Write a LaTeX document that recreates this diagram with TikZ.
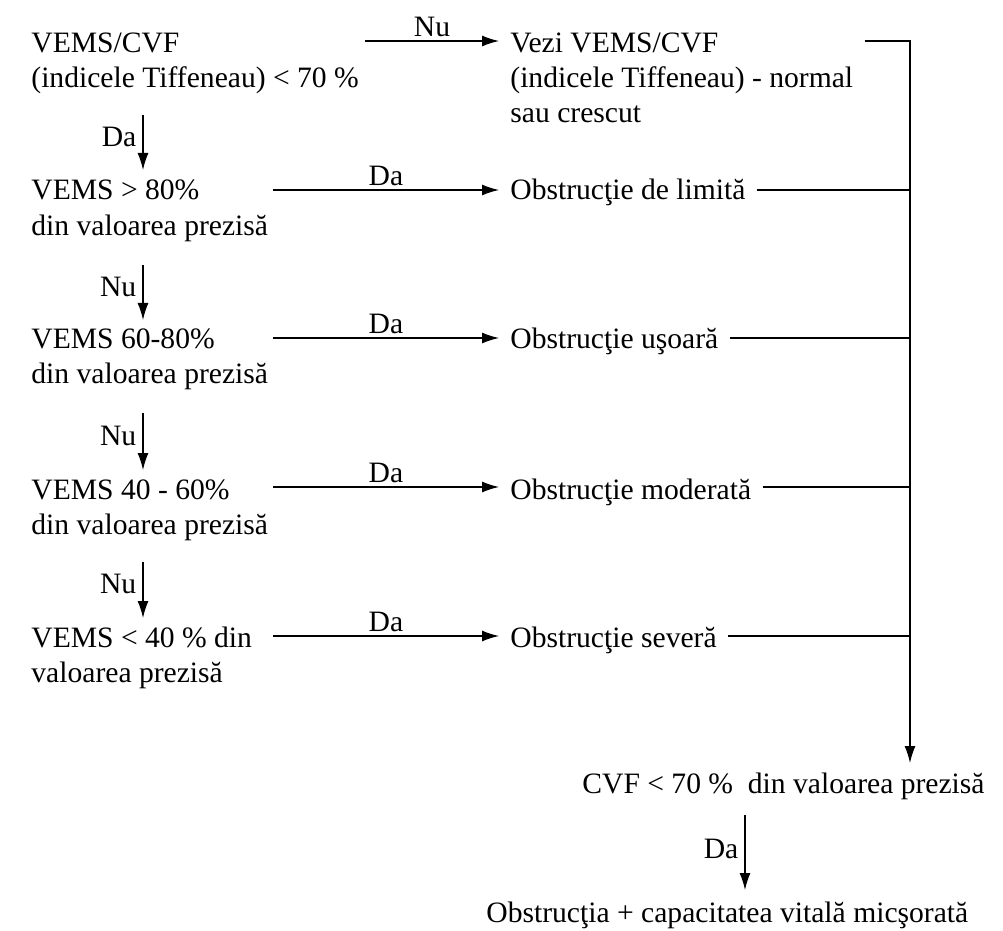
\documentclass[tikz,border=0pt]{standalone}
\usepackage{fontspec}
\setmainfont{Liberation Serif}
\usetikzlibrary{arrows.meta}
\newcommand{\lines}[1]{\begin{tabular}[t]{@{}l@{}}#1\end{tabular}}
\begin{document}
\begin{tikzpicture}[x=0.5pt,y=-0.5pt,
  txt/.style={inner sep=0pt, anchor=base west, font=\fontsize{14.8}{17.5}\selectfont},
  rtxt/.style={txt, inner xsep=5.5pt},
  lbl/.style={inner sep=2pt, font=\fontsize{14.8}{17.5}\selectfont},
  arr/.style={-{Latex[length=8.5pt,width=5.5pt]}, line width=0.7pt},
  ln/.style={line width=0.7pt}]
\useasboundingbox (0,0) rectangle (1003,931);

% left column: conditions
\node[txt] (c1) at (31,53)  {\lines{VEMS/CVF\\(indicele Tiffeneau) < 70 \%}};
\node[txt] (c2) at (31,200) {\lines{VEMS > 80\%\\din valoarea prezisă}};
\node[txt] (c3) at (31,349) {\lines{VEMS 60-80\%\\din valoarea prezisă}};
\node[txt] (c4) at (31,499) {\lines{VEMS 40 - 60\%\\din valoarea prezisă}};
\node[txt] (c5) at (31,647) {\lines{VEMS < 40 \% din\\valoarea prezisă}};

% right column: results
\node[rtxt] (v2) at (499,53)  {\lines{Vezi VEMS/CVF\\(indicele Tiffeneau) - normal\\sau crescut}};
\node[rtxt] (o1) at (499,200) {Obstrucţie de limită};
\node[rtxt] (o2) at (499,349) {Obstrucţie uşoară};
\node[rtxt] (o3) at (499,499) {Obstrucţie moderată};
\node[rtxt] (o4) at (499,647) {Obstrucţie severă};

% bottom
\node[txt] (cvf) at (582,793) {CVF < 70 \%\ \ din valoarea prezisă};
\node[txt] (fin) at (486,922) {Obstrucţia + capacitatea vitală micşorată};

% free ends of the connectors
\coordinate (s1) at (365,41);
\coordinate (s2) at (273,190);
\coordinate (s3) at (273,338);
\coordinate (s4) at (273,487);
\coordinate (s5) at (273,636);
\coordinate (bt) at (910,41);
\coordinate (bb) at (910,763);
\coordinate (d1a) at (143,115); \coordinate (d1b) at (143,170);
\coordinate (d2a) at (143,265); \coordinate (d2b) at (143,320);
\coordinate (d3a) at (143,413); \coordinate (d3b) at (143,470);
\coordinate (d4a) at (143,562); \coordinate (d4b) at (143,618);
\coordinate (e1) at (745,815);  \coordinate (e2) at (745,890);

% horizontal decisions
\draw[arr] (s1) -- (s1 -| v2.west) node[midway, above, lbl] {Nu};
\draw[arr] (s2) -- (s2 -| o1.west) node[midway, above, lbl] {Da};
\draw[arr] (s3) -- (s3 -| o2.west) node[midway, above, lbl] {Da};
\draw[arr] (s4) -- (s4 -| o3.west) node[midway, above, lbl] {Da};
\draw[arr] (s5) -- (s5 -| o4.west) node[midway, above, lbl] {Da};

% vertical decisions
\draw[arr] (d1a) -- (d1b) node[pos=0.4, left, lbl, inner xsep=3pt] {Da};
\draw[arr] (d2a) -- (d2b) node[pos=0.4, left, lbl, inner xsep=3pt] {Nu};
\draw[arr] (d3a) -- (d3b) node[pos=0.4, left, lbl, inner xsep=3pt] {Nu};
\draw[arr] (d4a) -- (d4b) node[pos=0.4, left, lbl, inner xsep=3pt] {Nu};

% collecting bus on the right
\draw[arr] (v2.east |- bt) -- (bt) -- (bb);
\draw[ln] (o1.east |- s2) -- (s2 -| bt);
\draw[ln] (o2.east |- s3) -- (s3 -| bt);
\draw[ln] (o3.east |- s4) -- (s4 -| bt);
\draw[ln] (o4.east |- s5) -- (s5 -| bt);

\draw[arr] (e1) -- (e2) node[pos=0.45, left, lbl, inner xsep=3pt] {Da};
\end{tikzpicture}
\end{document}
